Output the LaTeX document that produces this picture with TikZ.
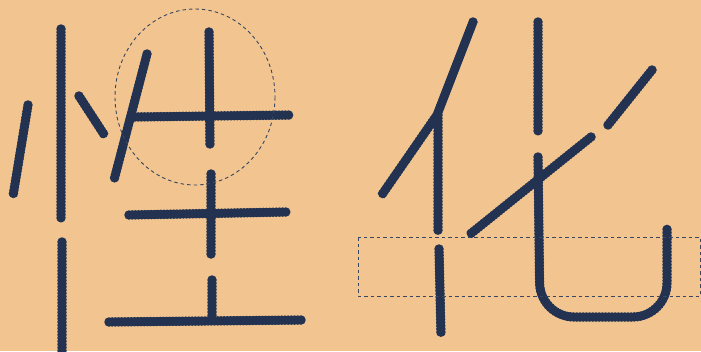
\documentclass[tikz,border=0pt]{standalone}
\definecolor{paper}{RGB}{242,197,144}
\definecolor{ink}{RGB}{34,50,80}
\tikzset{
	stroke/.style={draw=ink,line width=8pt,line cap=butt,line join=round,
		postaction={draw=ink,line width=9.5pt,line cap=round,dash pattern=on 0pt off 3.2pt}},
	guide/.style={draw=ink!90,line width=0.9pt,dash pattern=on 3.5pt off 3pt}
}
\begin{document}
\begin{tikzpicture}[x=1pt,y=-1pt]
	\fill[paper] (0,0) rectangle (701,351);
	\useasboundingbox (0,0) rectangle (701,351);
	% xing
	\draw[stroke] (61,29) -- (61,218);
	\draw[stroke] (62,242) -- (62,351);
	\draw[stroke] (28,105) -- (13,196);
	\draw[stroke] (79,96) -- (105,136);
	\draw[stroke] (147,54) -- (114,180);
	\draw[stroke] (135,117) -- (291,115);
	\draw[stroke] (209,32) -- (210,146);
	\draw[stroke] (211,174) -- (211,256);
	\draw[stroke] (129,215) -- (286,212);
	\draw[stroke] (212,280) -- (212,320);
	\draw[stroke] (109,322) -- (301,320);
	\draw[guide] (195,97) ellipse [x radius=80,y radius=88];
	% hua
	\draw[stroke] (473,22) -- (437,115) -- (381,196);
	\draw[stroke] (438,115) -- (438,231);
	\draw[stroke] (439,249) -- (441,335);
	\draw[stroke] (538,22) -- (538,133);
	\draw[stroke] (652,70) -- (608,125);
	\draw[stroke] (591,137) -- (469,235);
	\draw[stroke,rounded corners=34pt] (538,157) -- (540,317) -- (667,317) -- (667,228);
	\draw[guide] (358,237) rectangle (700,296);
\end{tikzpicture}
\end{document}
